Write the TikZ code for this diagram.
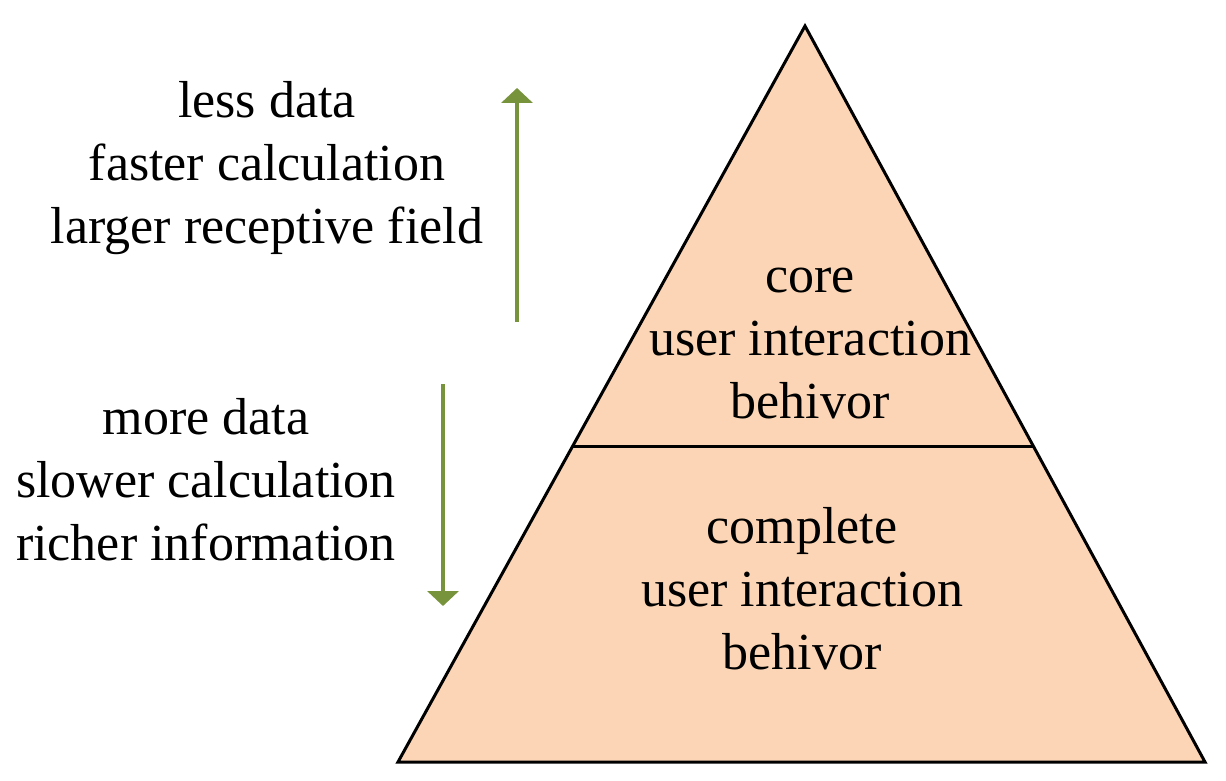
\documentclass[tikz,border=0pt]{standalone}
\usepackage{fontspec}
\setmainfont{Liberation Serif}
\usepackage{tikz}
\usetikzlibrary{arrows.meta,calc}
\definecolor{peach}{HTML}{FBD5B5}
\definecolor{olive}{HTML}{77933C}
\tikzset{layer/.style={fill=peach,draw=black,line width=3pt,line join=miter},
         lbl/.style={align=center,inner sep=0pt,font=\fontsize{52}{63}\selectfont},
         trend/.style={draw=olive,line width=4pt,-{Triangle[width=31pt,length=15pt]}}}

\begin{document}
\begin{tikzpicture}[x=1pt,y=1pt]
  \useasboundingbox (0,0) rectangle (1226,780);
  \coordinate (apex) at (805,754);
  \coordinate (bl) at (398,18);
  \coordinate (br) at (1205,18);
  \coordinate (cl) at ($(apex)!0.5707!(bl)$);
  \coordinate (cr) at ($(apex)!0.5707!(br)$);

  % pyramid
  \draw[layer] (apex) -- (bl) -- (br) -- cycle;
  \draw[line width=3pt] (cl) -- (cr);

  \node[lbl] (core) at (810,436) {core\\user interaction\\behivor};
  \node[lbl] (full) at (802,191) {complete\\user interaction\\behivor};

  % arrows
  \coordinate (u0) at (517,458);
  \coordinate (u1) at (517,692);
  \coordinate (d0) at (443,396);
  \coordinate (d1) at (443,174);
  \draw[trend] (u0) -- (u1);
  \draw[trend] (d0) -- (d1);

  \node[lbl] (less) at (267,612) {less data\\faster calculation\\larger receptive field};
  \node[lbl] (more) at (206,300) {more data\\slower calculation\\richer information};
\end{tikzpicture}
\end{document}
